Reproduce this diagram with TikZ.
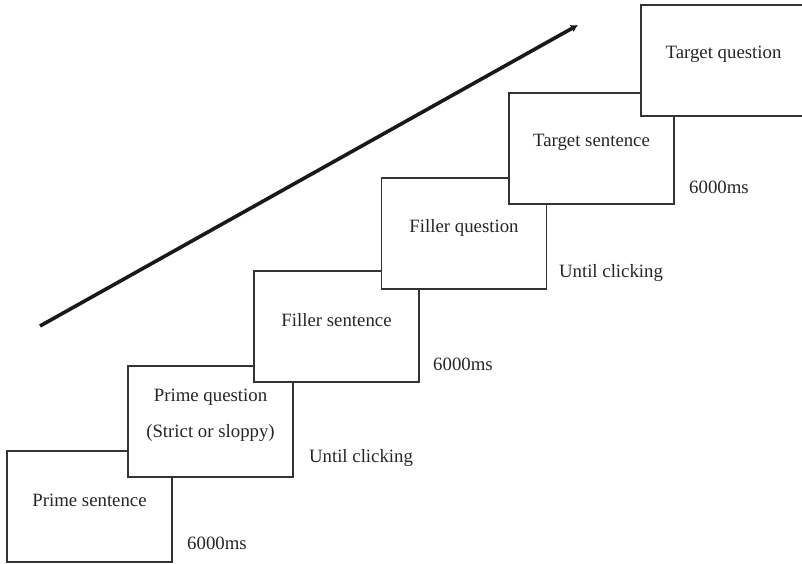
\documentclass[tikz,border=0pt]{standalone}
\usepackage{fontspec}
\setmainfont{Liberation Serif}
\usetikzlibrary{arrows.meta}

\begin{document}
\begin{tikzpicture}[x=1pt,y=-1pt, every node/.style={font=\fontsize{18.8}{36}\selectfont}]
	\useasboundingbox (0,0) rectangle (802,563);
	
	\begin{scope}[every node/.style={rectangle,draw=black!80,line width=1.2pt,fill=white,minimum width=165pt,minimum height=111pt}]
	\node (box 1) at (89.5,506.5) {};
	\node (box 2) at (210.5,421.5) {};
	\node (box 3) at (336.5,326.5) {};
	\node (box 4) at (464,233.5) {};
	\node (box 5) at (591.5,148.5) {};
	\node (box 6) at (723.5,60.5) {};
	\end{scope}
	
	\begin{scope}[every node/.style={font=\fontsize{18.8}{36}\selectfont,align=center,text=black!85}]
	\node (text 1) at ([yshift=6pt]box 1.center) {Prime sentence};
	\node (text 2) at ([yshift=6pt]box 2.center) {Prime question\\(Strict or sloppy)};
	\node (text 3) at ([yshift=6pt]box 3.center) {Filler sentence};
	\node (text 4) at ([yshift=6pt]box 4.center) {Filler question};
	\node (text 5) at ([yshift=6pt]box 5.center) {Target sentence};
	\node (text 6) at ([yshift=6pt]box 6.center) {Target question};
	
	\node (time 1) at (217,543) {6000ms};
	\node (time 2) at (361,458) {Until clicking};
	\node (time 3) at (463,364) {6000ms};
	\node (time 4) at (611,273) {Until clicking};
	\node (time 5) at (719,187) {6000ms};
	\end{scope}
	
	\coordinate (start) at (40,326);
	\coordinate (end) at (578,25);
	\draw [line width=3.6pt,black!90,-{Latex[length=7pt,width=8pt]}] (start) -- (end);
	
	\end{tikzpicture}
\end{document}
